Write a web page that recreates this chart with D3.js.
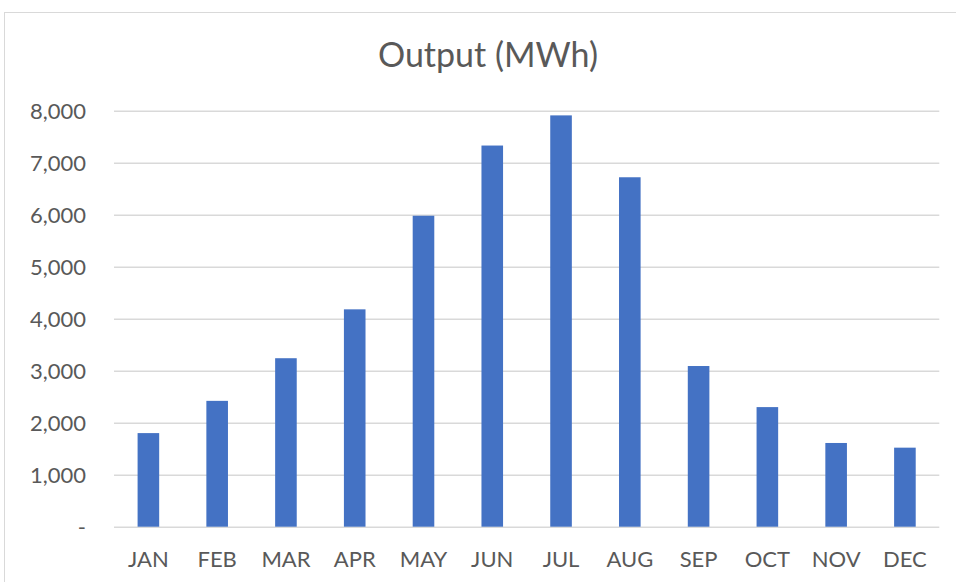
<!DOCTYPE html>
<html>
<head>
<meta charset="utf-8">
<script src="https://cdn.jsdelivr.net/npm/d3@7"></script>
<style>
  html, body { margin: 0; padding: 0; background: #ffffff; }
  svg { display: block; }
  text { font-family: Lato, "Open Sans", sans-serif; fill: #595959; }
</style>
</head>
<body>
<svg id="chart" width="956" height="582"></svg>
<script>
const months = ["JAN","FEB","MAR","APR","MAY","JUN","JUL","AUG","SEP","OCT","NOV","DEC"];
const output = [1800, 2420, 3240, 4180, 5980, 7330, 7910, 6720, 3090, 2300, 1610, 1520];
const yTicks = [0, 1000, 2000, 3000, 4000, 5000, 6000, 7000, 8000];
const title = "Output (MWh)";

const svg = d3.select("#chart");
const plot = { left: 114, right: 939.3, top: 110.7, bottom: 526.7 };

// outer chart border
svg.append("rect")
  .attr("x", 4.5).attr("y", 12.5)
  .attr("width", 970).attr("height", 590)
  .attr("fill", "#ffffff")
  .attr("stroke", "#d9d9d9").attr("stroke-width", 1);

const x = d3.scaleBand()
  .domain(months)
  .range([plot.left, plot.right])
  .paddingInner(0.686)
  .paddingOuter(0.343);

const y = d3.scaleLinear()
  .domain([0, 8000])
  .range([plot.bottom, plot.top]);

// gridlines + y labels
const yAxis = d3.axisLeft(y)
  .tickValues(yTicks)
  .tickSize(-(plot.right - plot.left))
  .tickPadding(28)
  .tickFormat(d => d === 0 ? "-" : d3.format(",")(d));

const gy = svg.append("g")
  .attr("transform", `translate(${plot.left},0)`)
  .call(yAxis);
gy.select(".domain").remove();
gy.selectAll(".tick line").attr("stroke", "#d9d9d9").attr("stroke-width", 1.5);
gy.selectAll(".tick text")
  .attr("fill", "#595959")
  .style("font-size", "22px")
  .style("font-family", "Lato, 'Open Sans', sans-serif")
  .attr("dy", "0.34em");

// bars
svg.append("g").selectAll("rect")
  .data(months)
  .join("rect")
  .attr("x", (d) => x(d))
  .attr("width", x.bandwidth())
  .attr("y", (d, i) => y(output[i]))
  .attr("height", (d, i) => y(0) - y(output[i]))
  .attr("fill", "#4472c4");

// x axis labels
const xAxis = d3.axisBottom(x).tickSize(0).tickPadding(0);
const gx = svg.append("g")
  .attr("transform", `translate(0,${plot.bottom})`)
  .call(xAxis);
gx.select(".domain").remove();
gx.selectAll(".tick text")
  .attr("fill", "#595959")
  .style("font-size", "22px")
  .style("font-family", "Lato, 'Open Sans', sans-serif")
  .attr("y", 40)
  .attr("dy", 0);

// title
svg.append("text")
  .attr("x", 488)
  .attr("y", 67)
  .attr("text-anchor", "middle")
  .style("font-size", "34px")
  .text(title);
</script>
</body>
</html>
